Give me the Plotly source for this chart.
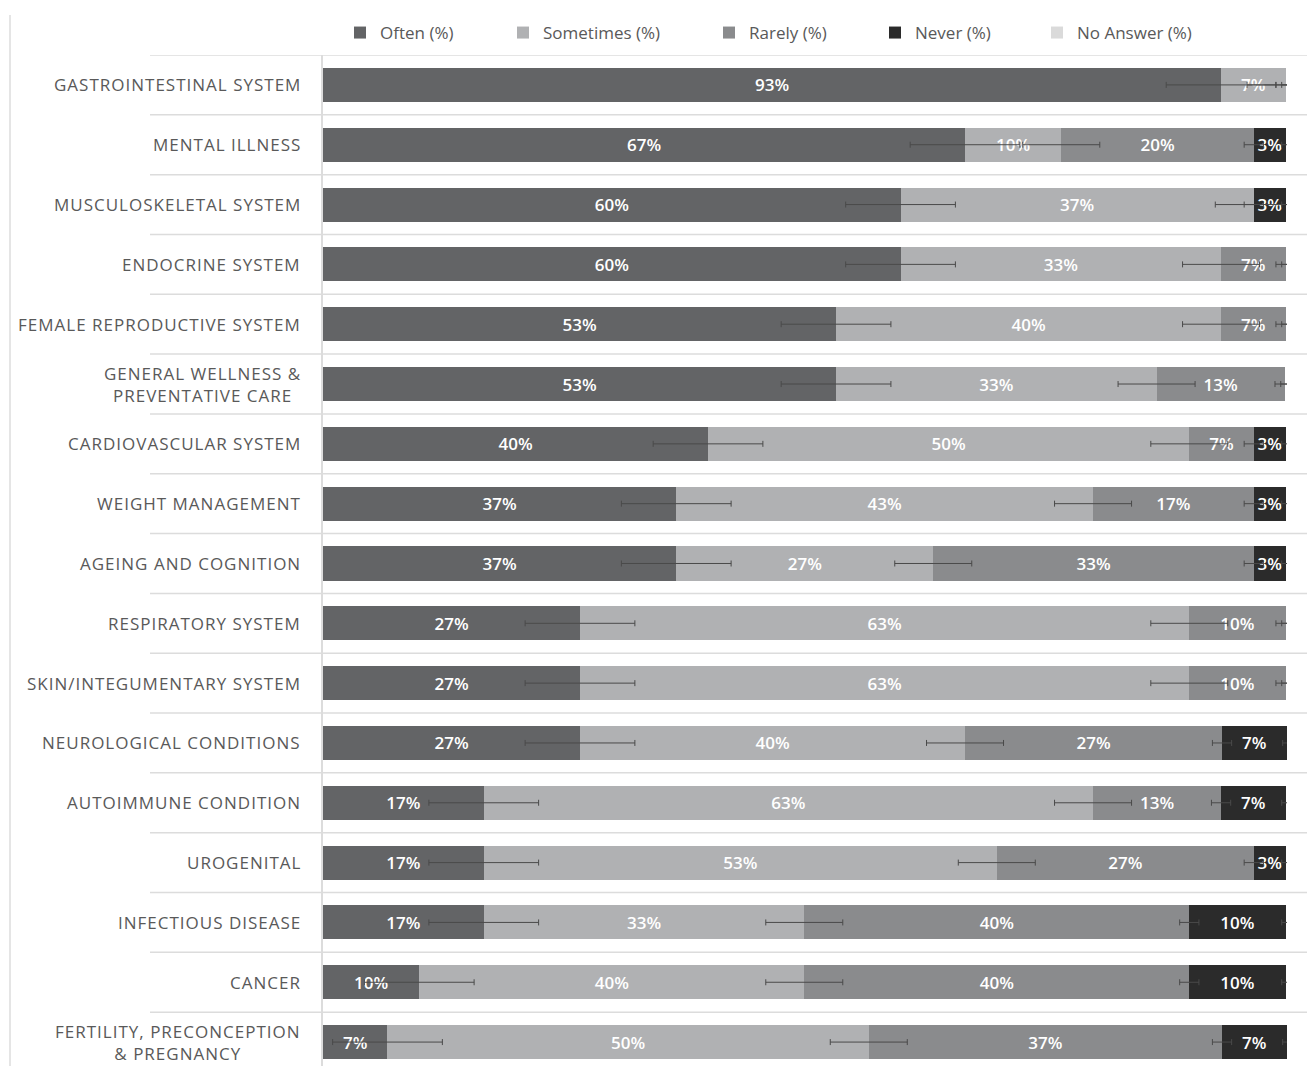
import plotly.graph_objects as go
import numpy as np

categories = [
    "GASTROINTESTINAL SYSTEM",
    "MENTAL ILLNESS",
    "MUSCULOSKELETAL SYSTEM",
    "ENDOCRINE SYSTEM",
    "FEMALE REPRODUCTIVE SYSTEM",
    "GENERAL WELLNESS &<br>PREVENTATIVE CARE",
    "CARDIOVASCULAR SYSTEM",
    "WEIGHT MANAGEMENT",
    "AGEING AND COGNITION",
    "RESPIRATORY SYSTEM",
    "SKIN/INTEGUMENTARY SYSTEM",
    "NEUROLOGICAL CONDITIONS",
    "AUTOIMMUNE CONDITION",
    "UROGENITAL",
    "INFECTIOUS DISEASE",
    "CANCER",
    "FERTILITY, PRECONCEPTION<br>& PREGNANCY",
]

often     = [93.3, 66.7, 60.0, 60.0, 53.3, 53.3, 40.0, 36.7, 36.7, 26.7, 26.7, 26.7, 16.7, 16.7, 16.7, 10.0, 6.7]
sometimes = [6.7, 10.0, 36.7, 33.3, 40.0, 33.3, 50.0, 43.3, 26.7, 63.3, 63.3, 40.0, 63.3, 53.3, 33.3, 40.0, 50.0]
rarely    = [0.0, 20.0, 0.0, 6.7, 6.7, 13.3, 6.7, 16.7, 33.3, 10.0, 10.0, 26.7, 13.3, 26.7, 40.0, 40.0, 36.7]
never     = [0.0, 3.3, 3.3, 0.0, 0.0, 0.0, 3.3, 3.3, 3.3, 0.0, 0.0, 6.7, 6.7, 3.3, 10.0, 10.0, 6.7]
no_answer = [0.0] * 17

series_names = ["Often (%)", "Sometimes (%)", "Rarely (%)", "Never (%)", "No Answer (%)"]
series_values = [often, sometimes, rarely, never, no_answer]
series_colors = ["#636466", "#b0b1b3", "#8a8b8d", "#2b2b2b", "#dadada"]
error_sizes = [5.7, 4.0, 1.0, 0.4, 0.0]
legend_left_px = [340, 503, 709, 875, 1037]

W, H = 1307, 1066
ML, MR, MT, MB = 323, 20, 55, 0
PW = W - ML - MR
PH = H - MT - MB
n = len(categories)
yidx = list(range(n))
XMAX = 100.15

fig = go.Figure()

legend_ids = ["legend"] + [f"legend{k}" for k in range(2, len(series_names) + 1)]

for name, vals, col, lid in zip(series_names, series_values, series_colors, legend_ids):
    fig.add_trace(go.Bar(
        name=name, y=yidx, x=vals, orientation="h", legend=lid,
        marker=dict(color=col, line=dict(width=0)),
        text=[f"{round(v)}%" if v > 0 else "" for v in vals],
        textposition="inside", insidetextanchor="middle", textangle=0,
        textfont=dict(color="white", size=17, family="Open Sans", weight=600),
        hoverinfo="skip",
    ))

cum = np.zeros(n)
for vals, err in zip(series_values, error_sizes):
    cum = cum + np.array(vals)
    if err <= 0:
        continue
    fig.add_trace(go.Scatter(
        x=cum, y=yidx, mode="markers", showlegend=False, hoverinfo="skip",
        marker=dict(size=1, color="rgba(0,0,0,0)"),
        error_x=dict(type="constant", value=err, color="#4a4a4a", thickness=1, width=3),
        cliponaxis=False,
    ))

# category labels
for i, lab in enumerate(categories):
    txt = "<br>".join(f'<span style="letter-spacing:1px">{l}</span>' for l in lab.split("<br>"))
    fig.add_annotation(
        x=-20 / PW, xref="paper", y=i, yref="y", text=txt, showarrow=False,
        xanchor="right", yanchor="middle", align="center",
        font=dict(family="Open Sans", size=17, color="#595959"),
    )

# row separator lines
for i in range(n + 1):
    fig.add_shape(type="line", xref="paper", yref="y",
                  x0=(150 - ML) / PW, x1=(W - ML) / PW, y0=i - 0.5, y1=i - 0.5,
                  line=dict(color="#dcdcdc", width=1.5))

# outer left border line
fig.add_shape(type="line", xref="paper", yref="paper",
              x0=(10 - ML) / PW, x1=(10 - ML) / PW, y0=0, y1=1 + 40 / PH,
              line=dict(color="#dcdcdc", width=1.5))

legend_font = dict(family="Open Sans", size=17, color="#595959")
legends = {}
for lid, lx in zip(legend_ids, legend_left_px):
    legends[lid] = dict(
        orientation="h", x=(lx - ML) / PW, xanchor="left",
        y=1 + (MT - 33) / PH, yanchor="middle", font=legend_font,
        bgcolor="rgba(0,0,0,0)",
    )

fig.update_layout(
    width=W, height=H,
    margin=dict(l=ML, r=MR, t=MT, b=MB),
    paper_bgcolor="white", plot_bgcolor="white",
    barmode="stack", bargap=0.43,
    uniformtext=dict(minsize=17, mode="show"),
    showlegend=True,
    xaxis=dict(range=[0, XMAX], showgrid=False, zeroline=False, showticklabels=False,
               showline=False, fixedrange=True),
    yaxis=dict(range=[n - 1 + 0.4, -0.5], showgrid=False, zeroline=False,
               showticklabels=False, showline=True, linecolor="#dcdcdc", linewidth=1.5,
               ticks=""),
    **legends,
)

fig.write_html("out.html", config={"displayModeBar": False},
               post_script="document.body.style.margin='0';document.documentElement.style.overflow='hidden';")
